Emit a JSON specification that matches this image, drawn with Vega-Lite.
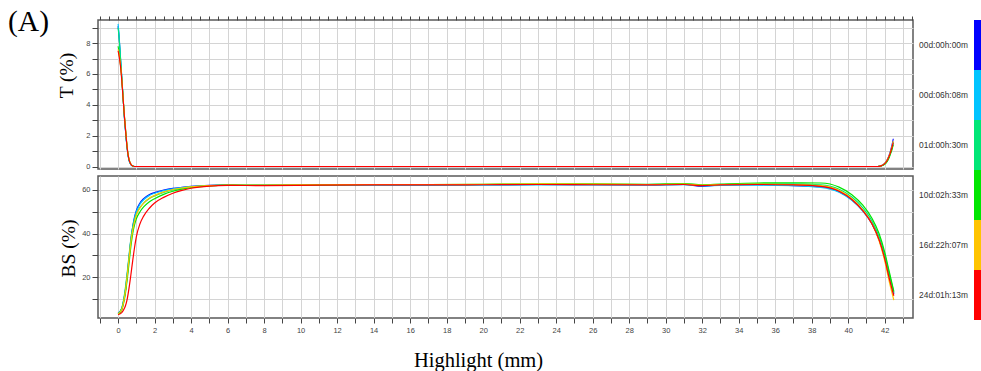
{
"$schema": "https://vega.github.io/schema/vega-lite/v6.json",
"autosize": {"type": "none"},
"padding": {"left": 98, "top": 20, "right": 883, "bottom": 351},
"background": "white",
"bounds": "flush",
"spacing": 7,
"title": {"text": "(A)", "anchor": "start", "frame": "group", "orient": "top", "font": "Liberation Serif", "fontSize": 29.5, "fontWeight": "normal", "color": "black", "baseline": "alphabetic", "offset": 0, "dx": -90, "dy": 46},
"datasets": {
"T": [
{"s":"00d:00h:00m","x":0,"v":9.1},{"s":"00d:00h:00m","x":0.05,"v":8.5},{"s":"00d:00h:00m","x":0.1,"v":7.6},{"s":"00d:00h:00m","x":0.15,"v":6.7},{"s":"00d:00h:00m","x":0.2,"v":5.8},{"s":"00d:00h:00m","x":0.25,"v":4.9},{"s":"00d:00h:00m","x":0.3,"v":4.0},{"s":"00d:00h:00m","x":0.35,"v":3.1},{"s":"00d:00h:00m","x":0.4,"v":2.4},{"s":"00d:00h:00m","x":0.45,"v":1.7},{"s":"00d:00h:00m","x":0.5,"v":1.15},{"s":"00d:00h:00m","x":0.55,"v":0.7},{"s":"00d:00h:00m","x":0.6,"v":0.4},{"s":"00d:00h:00m","x":0.7,"v":0.12},{"s":"00d:00h:00m","x":0.8,"v":0.03},{"s":"00d:00h:00m","x":0.9,"v":0},{"s":"00d:00h:00m","x":41.6,"v":0},{"s":"00d:00h:00m","x":41.8,"v":0.05},{"s":"00d:00h:00m","x":42.0,"v":0.2},{"s":"00d:00h:00m","x":42.1,"v":0.35},{"s":"00d:00h:00m","x":42.2,"v":0.6},{"s":"00d:00h:00m","x":42.3,"v":0.95},{"s":"00d:00h:00m","x":42.4,"v":1.4},{"s":"00d:00h:00m","x":42.47,"v":1.8},
{"s":"00d:06h:08m","x":0,"v":9.25},{"s":"00d:06h:08m","x":0.05,"v":8.6},{"s":"00d:06h:08m","x":0.1,"v":7.7},{"s":"00d:06h:08m","x":0.15,"v":6.8},{"s":"00d:06h:08m","x":0.2,"v":5.9},{"s":"00d:06h:08m","x":0.25,"v":5.0},{"s":"00d:06h:08m","x":0.3,"v":4.0},{"s":"00d:06h:08m","x":0.35,"v":3.1},{"s":"00d:06h:08m","x":0.4,"v":2.4},{"s":"00d:06h:08m","x":0.45,"v":1.7},{"s":"00d:06h:08m","x":0.5,"v":1.15},{"s":"00d:06h:08m","x":0.55,"v":0.7},{"s":"00d:06h:08m","x":0.6,"v":0.4},{"s":"00d:06h:08m","x":0.7,"v":0.12},{"s":"00d:06h:08m","x":0.8,"v":0.03},{"s":"00d:06h:08m","x":0.9,"v":0},{"s":"00d:06h:08m","x":41.6,"v":0},{"s":"00d:06h:08m","x":41.8,"v":0.04},{"s":"00d:06h:08m","x":42.0,"v":0.18},{"s":"00d:06h:08m","x":42.1,"v":0.32},{"s":"00d:06h:08m","x":42.2,"v":0.55},{"s":"00d:06h:08m","x":42.3,"v":0.85},{"s":"00d:06h:08m","x":42.4,"v":1.25},{"s":"00d:06h:08m","x":42.47,"v":1.6},
{"s":"01d:00h:30m","x":0,"v":9.0},{"s":"01d:00h:30m","x":0.05,"v":8.4},{"s":"01d:00h:30m","x":0.1,"v":7.6},{"s":"01d:00h:30m","x":0.15,"v":6.7},{"s":"01d:00h:30m","x":0.2,"v":5.8},{"s":"01d:00h:30m","x":0.25,"v":4.9},{"s":"01d:00h:30m","x":0.3,"v":4.0},{"s":"01d:00h:30m","x":0.35,"v":3.2},{"s":"01d:00h:30m","x":0.4,"v":2.5},{"s":"01d:00h:30m","x":0.45,"v":1.8},{"s":"01d:00h:30m","x":0.5,"v":1.2},{"s":"01d:00h:30m","x":0.55,"v":0.75},{"s":"01d:00h:30m","x":0.6,"v":0.45},{"s":"01d:00h:30m","x":0.7,"v":0.14},{"s":"01d:00h:30m","x":0.8,"v":0.03},{"s":"01d:00h:30m","x":0.9,"v":0},{"s":"01d:00h:30m","x":41.6,"v":0},{"s":"01d:00h:30m","x":41.8,"v":0.03},{"s":"01d:00h:30m","x":42.0,"v":0.15},{"s":"01d:00h:30m","x":42.1,"v":0.28},{"s":"01d:00h:30m","x":42.2,"v":0.5},{"s":"01d:00h:30m","x":42.3,"v":0.8},{"s":"01d:00h:30m","x":42.4,"v":1.15},{"s":"01d:00h:30m","x":42.47,"v":1.5},
{"s":"10d:02h:33m","x":0,"v":7.8},{"s":"10d:02h:33m","x":0.05,"v":7.4},{"s":"10d:02h:33m","x":0.1,"v":6.9},{"s":"10d:02h:33m","x":0.15,"v":6.4},{"s":"10d:02h:33m","x":0.2,"v":5.7},{"s":"10d:02h:33m","x":0.25,"v":4.9},{"s":"10d:02h:33m","x":0.3,"v":4.0},{"s":"10d:02h:33m","x":0.35,"v":3.2},{"s":"10d:02h:33m","x":0.4,"v":2.5},{"s":"10d:02h:33m","x":0.45,"v":1.8},{"s":"10d:02h:33m","x":0.5,"v":1.2},{"s":"10d:02h:33m","x":0.55,"v":0.75},{"s":"10d:02h:33m","x":0.6,"v":0.45},{"s":"10d:02h:33m","x":0.7,"v":0.14},{"s":"10d:02h:33m","x":0.8,"v":0.03},{"s":"10d:02h:33m","x":0.9,"v":0},{"s":"10d:02h:33m","x":41.6,"v":0},{"s":"10d:02h:33m","x":41.8,"v":0.03},{"s":"10d:02h:33m","x":42.0,"v":0.14},{"s":"10d:02h:33m","x":42.1,"v":0.26},{"s":"10d:02h:33m","x":42.2,"v":0.45},{"s":"10d:02h:33m","x":42.3,"v":0.75},{"s":"10d:02h:33m","x":42.4,"v":1.1},{"s":"10d:02h:33m","x":42.47,"v":1.4},
{"s":"16d:22h:07m","x":0,"v":7.6},{"s":"16d:22h:07m","x":0.05,"v":7.3},{"s":"16d:22h:07m","x":0.1,"v":6.9},{"s":"16d:22h:07m","x":0.15,"v":6.4},{"s":"16d:22h:07m","x":0.2,"v":5.7},{"s":"16d:22h:07m","x":0.25,"v":4.9},{"s":"16d:22h:07m","x":0.3,"v":4.1},{"s":"16d:22h:07m","x":0.35,"v":3.3},{"s":"16d:22h:07m","x":0.4,"v":2.6},{"s":"16d:22h:07m","x":0.45,"v":1.9},{"s":"16d:22h:07m","x":0.5,"v":1.3},{"s":"16d:22h:07m","x":0.55,"v":0.8},{"s":"16d:22h:07m","x":0.6,"v":0.5},{"s":"16d:22h:07m","x":0.7,"v":0.16},{"s":"16d:22h:07m","x":0.8,"v":0.04},{"s":"16d:22h:07m","x":0.9,"v":0},{"s":"16d:22h:07m","x":41.6,"v":0},{"s":"16d:22h:07m","x":41.8,"v":0.05},{"s":"16d:22h:07m","x":42.0,"v":0.2},{"s":"16d:22h:07m","x":42.1,"v":0.35},{"s":"16d:22h:07m","x":42.2,"v":0.58},{"s":"16d:22h:07m","x":42.3,"v":0.9},{"s":"16d:22h:07m","x":42.4,"v":1.3},{"s":"16d:22h:07m","x":42.47,"v":1.65},
{"s":"24d:01h:13m","x":0,"v":7.5},{"s":"24d:01h:13m","x":0.05,"v":7.2},{"s":"24d:01h:13m","x":0.1,"v":6.8},{"s":"24d:01h:13m","x":0.15,"v":6.3},{"s":"24d:01h:13m","x":0.2,"v":5.6},{"s":"24d:01h:13m","x":0.25,"v":4.8},{"s":"24d:01h:13m","x":0.3,"v":4.0},{"s":"24d:01h:13m","x":0.35,"v":3.2},{"s":"24d:01h:13m","x":0.4,"v":2.5},{"s":"24d:01h:13m","x":0.45,"v":1.8},{"s":"24d:01h:13m","x":0.5,"v":1.2},{"s":"24d:01h:13m","x":0.55,"v":0.75},{"s":"24d:01h:13m","x":0.6,"v":0.45},{"s":"24d:01h:13m","x":0.7,"v":0.15},{"s":"24d:01h:13m","x":0.8,"v":0.04},{"s":"24d:01h:13m","x":0.9,"v":0},{"s":"24d:01h:13m","x":41.6,"v":0},{"s":"24d:01h:13m","x":41.8,"v":0.04},{"s":"24d:01h:13m","x":42.0,"v":0.18},{"s":"24d:01h:13m","x":42.1,"v":0.32},{"s":"24d:01h:13m","x":42.2,"v":0.55},{"s":"24d:01h:13m","x":42.3,"v":0.85},{"s":"24d:01h:13m","x":42.4,"v":1.25},{"s":"24d:01h:13m","x":42.47,"v":1.55}
],
"BS": [
{"s":"00d:00h:00m","x":0,"v":3.5},{"s":"00d:00h:00m","x":0.2,"v":5.5},{"s":"00d:00h:00m","x":0.3,"v":9},{"s":"00d:00h:00m","x":0.4,"v":14},{"s":"00d:00h:00m","x":0.5,"v":21},{"s":"00d:00h:00m","x":0.6,"v":29},{"s":"00d:00h:00m","x":0.7,"v":37},{"s":"00d:00h:00m","x":0.8,"v":43},{"s":"00d:00h:00m","x":0.9,"v":47.5},{"s":"00d:00h:00m","x":1.0,"v":50.5},{"s":"00d:00h:00m","x":1.2,"v":54},{"s":"00d:00h:00m","x":1.4,"v":56},{"s":"00d:00h:00m","x":1.7,"v":57.8},{"s":"00d:00h:00m","x":2.0,"v":58.8},{"s":"00d:00h:00m","x":2.5,"v":59.9},{"s":"00d:00h:00m","x":3.0,"v":60.7},{"s":"00d:00h:00m","x":3.5,"v":61.2},{"s":"00d:00h:00m","x":4.0,"v":61.6},{"s":"00d:00h:00m","x":5,"v":62.1},{"s":"00d:00h:00m","x":6,"v":62.3},{"s":"00d:00h:00m","x":8,"v":62.2},{"s":"00d:00h:00m","x":11,"v":62.2},{"s":"00d:00h:00m","x":14,"v":62.3},{"s":"00d:00h:00m","x":17,"v":62.2},{"s":"00d:00h:00m","x":20,"v":62.4},{"s":"00d:00h:00m","x":23,"v":62.5},{"s":"00d:00h:00m","x":26,"v":62.4},{"s":"00d:00h:00m","x":29,"v":62.3},{"s":"00d:00h:00m","x":31,"v":62.6},{"s":"00d:00h:00m","x":32,"v":61.6},{"s":"00d:00h:00m","x":33,"v":62.3},{"s":"00d:00h:00m","x":35,"v":62.4},{"s":"00d:00h:00m","x":37,"v":62.0},{"s":"00d:00h:00m","x":38.5,"v":61.5},{"s":"00d:00h:00m","x":39.5,"v":59.2},{"s":"00d:00h:00m","x":40.2,"v":55.5},{"s":"00d:00h:00m","x":40.8,"v":50.5},{"s":"00d:00h:00m","x":41.3,"v":44.5},{"s":"00d:00h:00m","x":41.7,"v":37},{"s":"00d:00h:00m","x":42.0,"v":29},{"s":"00d:00h:00m","x":42.25,"v":20},{"s":"00d:00h:00m","x":42.5,"v":12.3},
{"s":"00d:06h:08m","x":0,"v":3.3},{"s":"00d:06h:08m","x":0.2,"v":5.3},{"s":"00d:06h:08m","x":0.3,"v":8.8},{"s":"00d:06h:08m","x":0.4,"v":13.5},{"s":"00d:06h:08m","x":0.5,"v":20.5},{"s":"00d:06h:08m","x":0.6,"v":28.5},{"s":"00d:06h:08m","x":0.7,"v":36.5},{"s":"00d:06h:08m","x":0.8,"v":42.5},{"s":"00d:06h:08m","x":0.9,"v":47},{"s":"00d:06h:08m","x":1.0,"v":50},{"s":"00d:06h:08m","x":1.2,"v":53.5},{"s":"00d:06h:08m","x":1.4,"v":55.5},{"s":"00d:06h:08m","x":1.7,"v":57.4},{"s":"00d:06h:08m","x":2.0,"v":58.5},{"s":"00d:06h:08m","x":2.5,"v":59.7},{"s":"00d:06h:08m","x":3.0,"v":60.5},{"s":"00d:06h:08m","x":3.5,"v":61.1},{"s":"00d:06h:08m","x":4.0,"v":61.5},{"s":"00d:06h:08m","x":5,"v":62},{"s":"00d:06h:08m","x":6,"v":62.2},{"s":"00d:06h:08m","x":8,"v":62.1},{"s":"00d:06h:08m","x":11,"v":62.1},{"s":"00d:06h:08m","x":14,"v":62.2},{"s":"00d:06h:08m","x":17,"v":62.2},{"s":"00d:06h:08m","x":20,"v":62.2},{"s":"00d:06h:08m","x":23,"v":62.3},{"s":"00d:06h:08m","x":26,"v":62.3},{"s":"00d:06h:08m","x":29,"v":62.2},{"s":"00d:06h:08m","x":31,"v":62.4},{"s":"00d:06h:08m","x":32,"v":61.9},{"s":"00d:06h:08m","x":33,"v":62.1},{"s":"00d:06h:08m","x":35,"v":62.2},{"s":"00d:06h:08m","x":37,"v":62.0},{"s":"00d:06h:08m","x":38.5,"v":61.2},{"s":"00d:06h:08m","x":39.5,"v":59},{"s":"00d:06h:08m","x":40.2,"v":55.3},{"s":"00d:06h:08m","x":40.8,"v":50.3},{"s":"00d:06h:08m","x":41.3,"v":44.5},{"s":"00d:06h:08m","x":41.7,"v":37.2},{"s":"00d:06h:08m","x":42.0,"v":29.3},{"s":"00d:06h:08m","x":42.25,"v":20.5},{"s":"00d:06h:08m","x":42.5,"v":12.8},
{"s":"01d:00h:30m","x":0,"v":3.2},{"s":"01d:00h:30m","x":0.2,"v":5.8},{"s":"01d:00h:30m","x":0.3,"v":9.5},{"s":"01d:00h:30m","x":0.4,"v":15},{"s":"01d:00h:30m","x":0.5,"v":22},{"s":"01d:00h:30m","x":0.6,"v":30},{"s":"01d:00h:30m","x":0.7,"v":37.5},{"s":"01d:00h:30m","x":0.8,"v":43},{"s":"01d:00h:30m","x":0.9,"v":46.5},{"s":"01d:00h:30m","x":1.0,"v":49},{"s":"01d:00h:30m","x":1.2,"v":52},{"s":"01d:00h:30m","x":1.4,"v":54},{"s":"01d:00h:30m","x":1.7,"v":56},{"s":"01d:00h:30m","x":2.0,"v":57.3},{"s":"01d:00h:30m","x":2.5,"v":58.9},{"s":"01d:00h:30m","x":3.0,"v":60},{"s":"01d:00h:30m","x":3.5,"v":60.8},{"s":"01d:00h:30m","x":4.0,"v":61.4},{"s":"01d:00h:30m","x":5,"v":62},{"s":"01d:00h:30m","x":6,"v":62.2},{"s":"01d:00h:30m","x":8,"v":62.2},{"s":"01d:00h:30m","x":11,"v":62.3},{"s":"01d:00h:30m","x":14,"v":62.4},{"s":"01d:00h:30m","x":17,"v":62.4},{"s":"01d:00h:30m","x":20,"v":62.5},{"s":"01d:00h:30m","x":23,"v":62.6},{"s":"01d:00h:30m","x":26,"v":62.6},{"s":"01d:00h:30m","x":29,"v":62.5},{"s":"01d:00h:30m","x":31,"v":62.8},{"s":"01d:00h:30m","x":32,"v":62.2},{"s":"01d:00h:30m","x":33,"v":62.5},{"s":"01d:00h:30m","x":35,"v":62.9},{"s":"01d:00h:30m","x":37,"v":62.8},{"s":"01d:00h:30m","x":38.5,"v":62.3},{"s":"01d:00h:30m","x":39.5,"v":60.3},{"s":"01d:00h:30m","x":40.2,"v":56.8},{"s":"01d:00h:30m","x":40.8,"v":51.8},{"s":"01d:00h:30m","x":41.3,"v":45.8},{"s":"01d:00h:30m","x":41.7,"v":38.5},{"s":"01d:00h:30m","x":42.0,"v":30.5},{"s":"01d:00h:30m","x":42.25,"v":21.5},{"s":"01d:00h:30m","x":42.5,"v":13},
{"s":"10d:02h:33m","x":0,"v":3},{"s":"10d:02h:33m","x":0.2,"v":4.8},{"s":"10d:02h:33m","x":0.3,"v":8},{"s":"10d:02h:33m","x":0.4,"v":12.5},{"s":"10d:02h:33m","x":0.5,"v":19},{"s":"10d:02h:33m","x":0.6,"v":26.5},{"s":"10d:02h:33m","x":0.7,"v":34},{"s":"10d:02h:33m","x":0.8,"v":40},{"s":"10d:02h:33m","x":0.9,"v":44},{"s":"10d:02h:33m","x":1.0,"v":46.8},{"s":"10d:02h:33m","x":1.2,"v":50},{"s":"10d:02h:33m","x":1.4,"v":52.2},{"s":"10d:02h:33m","x":1.7,"v":54.5},{"s":"10d:02h:33m","x":2.0,"v":56},{"s":"10d:02h:33m","x":2.5,"v":58},{"s":"10d:02h:33m","x":3.0,"v":59.4},{"s":"10d:02h:33m","x":3.5,"v":60.4},{"s":"10d:02h:33m","x":4.0,"v":61.1},{"s":"10d:02h:33m","x":5,"v":61.9},{"s":"10d:02h:33m","x":6,"v":62.2},{"s":"10d:02h:33m","x":8,"v":62.1},{"s":"10d:02h:33m","x":11,"v":62.3},{"s":"10d:02h:33m","x":14,"v":62.5},{"s":"10d:02h:33m","x":17,"v":62.5},{"s":"10d:02h:33m","x":20,"v":62.6},{"s":"10d:02h:33m","x":23,"v":62.8},{"s":"10d:02h:33m","x":26,"v":62.8},{"s":"10d:02h:33m","x":29,"v":62.6},{"s":"10d:02h:33m","x":31,"v":62.9},{"s":"10d:02h:33m","x":32,"v":62.4},{"s":"10d:02h:33m","x":33,"v":62.7},{"s":"10d:02h:33m","x":35,"v":63.2},{"s":"10d:02h:33m","x":37,"v":63.3},{"s":"10d:02h:33m","x":38.5,"v":63.2},{"s":"10d:02h:33m","x":39.5,"v":61.3},{"s":"10d:02h:33m","x":40.2,"v":57.8},{"s":"10d:02h:33m","x":40.8,"v":53},{"s":"10d:02h:33m","x":41.3,"v":47},{"s":"10d:02h:33m","x":41.7,"v":39.8},{"s":"10d:02h:33m","x":42.0,"v":31.5},{"s":"10d:02h:33m","x":42.25,"v":22.5},{"s":"10d:02h:33m","x":42.5,"v":13.5},
{"s":"16d:22h:07m","x":0,"v":3.2},{"s":"16d:22h:07m","x":0.2,"v":5.2},{"s":"16d:22h:07m","x":0.3,"v":8.5},{"s":"16d:22h:07m","x":0.4,"v":13.5},{"s":"16d:22h:07m","x":0.5,"v":20.5},{"s":"16d:22h:07m","x":0.6,"v":28.5},{"s":"16d:22h:07m","x":0.7,"v":36},{"s":"16d:22h:07m","x":0.8,"v":41.5},{"s":"16d:22h:07m","x":0.9,"v":45.5},{"s":"16d:22h:07m","x":1.0,"v":48.5},{"s":"16d:22h:07m","x":1.2,"v":51.8},{"s":"16d:22h:07m","x":1.4,"v":54},{"s":"16d:22h:07m","x":1.7,"v":56.2},{"s":"16d:22h:07m","x":2.0,"v":57.5},{"s":"16d:22h:07m","x":2.5,"v":59.1},{"s":"16d:22h:07m","x":3.0,"v":60.2},{"s":"16d:22h:07m","x":3.5,"v":60.9},{"s":"16d:22h:07m","x":4.0,"v":61.4},{"s":"16d:22h:07m","x":5,"v":62},{"s":"16d:22h:07m","x":6,"v":62.2},{"s":"16d:22h:07m","x":8,"v":62.2},{"s":"16d:22h:07m","x":11,"v":62.4},{"s":"16d:22h:07m","x":14,"v":62.5},{"s":"16d:22h:07m","x":17,"v":62.5},{"s":"16d:22h:07m","x":20,"v":62.6},{"s":"16d:22h:07m","x":23,"v":62.8},{"s":"16d:22h:07m","x":26,"v":62.7},{"s":"16d:22h:07m","x":29,"v":62.5},{"s":"16d:22h:07m","x":31,"v":62.7},{"s":"16d:22h:07m","x":32,"v":62.2},{"s":"16d:22h:07m","x":33,"v":62.5},{"s":"16d:22h:07m","x":35,"v":62.7},{"s":"16d:22h:07m","x":37,"v":62.5},{"s":"16d:22h:07m","x":38.5,"v":62},{"s":"16d:22h:07m","x":39.5,"v":59.8},{"s":"16d:22h:07m","x":40.2,"v":56},{"s":"16d:22h:07m","x":40.8,"v":50.8},{"s":"16d:22h:07m","x":41.3,"v":44.5},{"s":"16d:22h:07m","x":41.7,"v":36.5},{"s":"16d:22h:07m","x":42.0,"v":27.5},{"s":"16d:22h:07m","x":42.25,"v":18},{"s":"16d:22h:07m","x":42.5,"v":9.5},
{"s":"24d:01h:13m","x":0,"v":2.8},{"s":"24d:01h:13m","x":0.2,"v":3.8},{"s":"24d:01h:13m","x":0.3,"v":5},{"s":"24d:01h:13m","x":0.4,"v":6.8},{"s":"24d:01h:13m","x":0.5,"v":10},{"s":"24d:01h:13m","x":0.6,"v":15},{"s":"24d:01h:13m","x":0.7,"v":21},{"s":"24d:01h:13m","x":0.8,"v":27.5},{"s":"24d:01h:13m","x":0.9,"v":33.5},{"s":"24d:01h:13m","x":1.0,"v":38.5},{"s":"24d:01h:13m","x":1.2,"v":44.5},{"s":"24d:01h:13m","x":1.4,"v":48},{"s":"24d:01h:13m","x":1.7,"v":51.5},{"s":"24d:01h:13m","x":2.0,"v":54},{"s":"24d:01h:13m","x":2.5,"v":56.6},{"s":"24d:01h:13m","x":3.0,"v":58.5},{"s":"24d:01h:13m","x":3.5,"v":59.8},{"s":"24d:01h:13m","x":4.0,"v":60.8},{"s":"24d:01h:13m","x":5,"v":61.8},{"s":"24d:01h:13m","x":6,"v":62.1},{"s":"24d:01h:13m","x":8,"v":62.0},{"s":"24d:01h:13m","x":11,"v":62.2},{"s":"24d:01h:13m","x":14,"v":62.3},{"s":"24d:01h:13m","x":17,"v":62.3},{"s":"24d:01h:13m","x":20,"v":62.4},{"s":"24d:01h:13m","x":23,"v":62.5},{"s":"24d:01h:13m","x":26,"v":62.4},{"s":"24d:01h:13m","x":29,"v":62.3},{"s":"24d:01h:13m","x":31,"v":62.5},{"s":"24d:01h:13m","x":32,"v":62.0},{"s":"24d:01h:13m","x":33,"v":62.3},{"s":"24d:01h:13m","x":35,"v":62.5},{"s":"24d:01h:13m","x":37,"v":62.3},{"s":"24d:01h:13m","x":38.5,"v":61.6},{"s":"24d:01h:13m","x":39.5,"v":59.4},{"s":"24d:01h:13m","x":40.2,"v":55.6},{"s":"24d:01h:13m","x":40.8,"v":50.5},{"s":"24d:01h:13m","x":41.3,"v":44.5},{"s":"24d:01h:13m","x":41.7,"v":37},{"s":"24d:01h:13m","x":42.0,"v":28.5},{"s":"24d:01h:13m","x":42.25,"v":19.5},{"s":"24d:01h:13m","x":42.5,"v":11.5}
]
},
"vconcat": [
{
"width": 815, "height": 149,
"data": {"name": "T"},
"mark": {"type": "line", "strokeWidth": 1.1, "interpolate": "monotone", "clip": true},
"encoding": {
"x": {"field": "x", "type": "quantitative", "scale": {"domain": [-1.1, 43.55], "nice": false, "zero": false},
"axis": {"orient": "top", "values": [-1,-0.5,0,0.5,1,1.5,2,2.5,3,3.5,4,4.5,5,5.5,6,6.5,7,7.5,8,8.5,9,9.5,10,10.5,11,11.5,12,12.5,13,13.5,14,14.5,15,15.5,16,16.5,17,17.5,18,18.5,19,19.5,20,20.5,21,21.5,22,22.5,23,23.5,24,24.5,25,25.5,26,26.5,27,27.5,28,28.5,29,29.5,30,30.5,31,31.5,32,32.5,33,33.5,34,34.5,35,35.5,36,36.5,37,37.5,38,38.5,39,39.5,40,40.5,41,41.5,42,42.5,43,43.5], "labels": false, "title": null, "tickSize": 4, "grid": true,
"gridOpacity": {"condition": {"test": "datum.value % 1 === 0", "value": 1}, "value": 0},
"encode": {"ticks": {"update": {"y": {"signal": "datum.value % 2 === 0 ? 4 : (datum.value % 1 === 0 ? 3 : 2)"}, "y2": {"signal": "datum.value % 2 === 0 ? -4 : (datum.value % 1 === 0 ? -3 : -2)"}}}}}},
"y": {"field": "v", "type": "quantitative", "scale": {"domain": [-0.162, 9.5], "nice": false, "zero": false},
"axis": {"values": [0,0.5,1,1.5,2,2.5,3,3.5,4,4.5,5,5.5,6,6.5,7,7.5,8,8.5,9], "format": "d", "labelExpr": "datum.value % 2 === 0 ? datum.label : ''", "tickSize": 6, "grid": true,
"gridOpacity": {"condition": {"test": "datum.value % 1 === 0", "value": 1}, "value": 0},
"encode": {"ticks": {"update": {"x2": {"signal": "datum.value % 2 === 0 ? -6 : -3"}}}},
"title": "T (%)", "titleX": -31.5, "titleY": 55, "titleBaseline": "middle", "titleAlign": "center", "titleAngle": -90, "titleFontSize": 19.5}},
"color": {"field": "s", "type": "nominal",
"scale": {"domain": ["00d:00h:00m","00d:06h:08m","01d:00h:30m","10d:02h:33m","16d:22h:07m","24d:01h:13m"], "range": ["#0000ff","#00c4ff","#00e676","#00e600","#ffc400","#ff0000"]},
"legend": {"orient": "none", "legendX": 854.5, "legendY": 0, "direction": "vertical", "title": null, "symbolType": "M-0.14,-1H0.14V1H-0.14Z", "symbolSize": 2500, "symbolStrokeWidth": 0, "symbolOpacity": 1, "labelAlign": "right", "labelOffset": -34.5, "rowPadding": 0, "padding": 0, "labelFont": "Liberation Sans", "labelFontSize": 8.4, "labelColor": "#333",
"encode": {"symbols": {"update": {"fill": {"scale": "color", "field": "value"}, "stroke": {"value": "transparent"}}}}}}
}
},
{
"width": 815, "height": 142,
"data": {"name": "BS"},
"mark": {"type": "line", "strokeWidth": 1.2, "interpolate": "monotone", "clip": true},
"encoding": {
"x": {"field": "x", "type": "quantitative", "scale": {"domain": [-1.1, 43.55], "nice": false, "zero": false},
"axis": {"orient": "bottom", "values": [-1,-0.5,0,0.5,1,1.5,2,2.5,3,3.5,4,4.5,5,5.5,6,6.5,7,7.5,8,8.5,9,9.5,10,10.5,11,11.5,12,12.5,13,13.5,14,14.5,15,15.5,16,16.5,17,17.5,18,18.5,19,19.5,20,20.5,21,21.5,22,22.5,23,23.5,24,24.5,25,25.5,26,26.5,27,27.5,28,28.5,29,29.5,30,30.5,31,31.5,32,32.5,33,33.5,34,34.5,35,35.5,36,36.5,37,37.5,38,38.5,39,39.5,40,40.5,41,41.5,42,42.5,43,43.5], "format": "d", "labelExpr": "datum.value % 2 === 0 ? datum.label : ''", "tickSize": 5, "labelPadding": 3.5, "grid": true,
"gridOpacity": {"condition": {"test": "datum.value % 1 === 0", "value": 1}, "value": 0},
"encode": {"ticks": {"update": {"y": {"signal": "datum.value % 2 === 0 ? -5 : (datum.value % 1 === 0 ? -3.5 : -2.5)"}, "y2": {"signal": "datum.value % 2 === 0 ? 5 : (datum.value % 1 === 0 ? 3.5 : 2.5)"}}}},
"title": "Highlight (mm)", "titleX": 380, "titleY": 48.5, "titleBaseline": "alphabetic", "titleAlign": "center", "titleFontSize": 20.5}},
"y": {"field": "v", "type": "quantitative", "scale": {"domain": [1.3, 66.4], "nice": false, "zero": false},
"axis": {"values": [10,20,30,40,50,60], "format": "d", "labelExpr": "datum.value % 20 === 0 ? datum.label : ''", "tickSize": 6, "grid": true,
"encode": {"ticks": {"update": {"x2": {"signal": "datum.value % 20 === 0 ? -6 : -4"}}}},
"title": "BS (%)", "titleX": -29.5, "titleY": 72, "titleBaseline": "middle", "titleAlign": "center", "titleAngle": -90, "titleFontSize": 19.5}},
"color": {"field": "s", "type": "nominal",
"scale": {"domain": ["00d:00h:00m","00d:06h:08m","01d:00h:30m","10d:02h:33m","16d:22h:07m","24d:01h:13m"], "range": ["#0000ff","#00c4ff","#00e676","#00e600","#ffc400","#ff0000"]},
"legend": {"orient": "none", "legendX": 854.5, "legendY": 0, "direction": "vertical", "title": null, "symbolType": "M-0.14,-1H0.14V1H-0.14Z", "symbolSize": 2500, "symbolStrokeWidth": 0, "symbolOpacity": 1, "labelAlign": "right", "labelOffset": -34.5, "rowPadding": 0, "padding": 0, "labelFont": "Liberation Sans", "labelFontSize": 8.4, "labelColor": "#333",
"encode": {"symbols": {"update": {"fill": {"scale": "color", "field": "value"}, "stroke": {"value": "transparent"}}}}}}
}
}
],
"resolve": {"scale": {"color": "shared"}},
"config": {
"view": {"stroke": "#5a5a5a", "strokeWidth": 1.5},
"axis": {"domain": false, "labelFont": "Liberation Sans", "labelFontSize": 7.5, "labelColor": "#444", "tickColor": "#444", "tickWidth": 1, "gridColor": "#d4d4d4", "gridWidth": 1, "labelOverlap": false, "labelPadding": 2, "titleFont": "Liberation Serif", "titleFontWeight": "normal", "titleColor": "black"}
}
}
